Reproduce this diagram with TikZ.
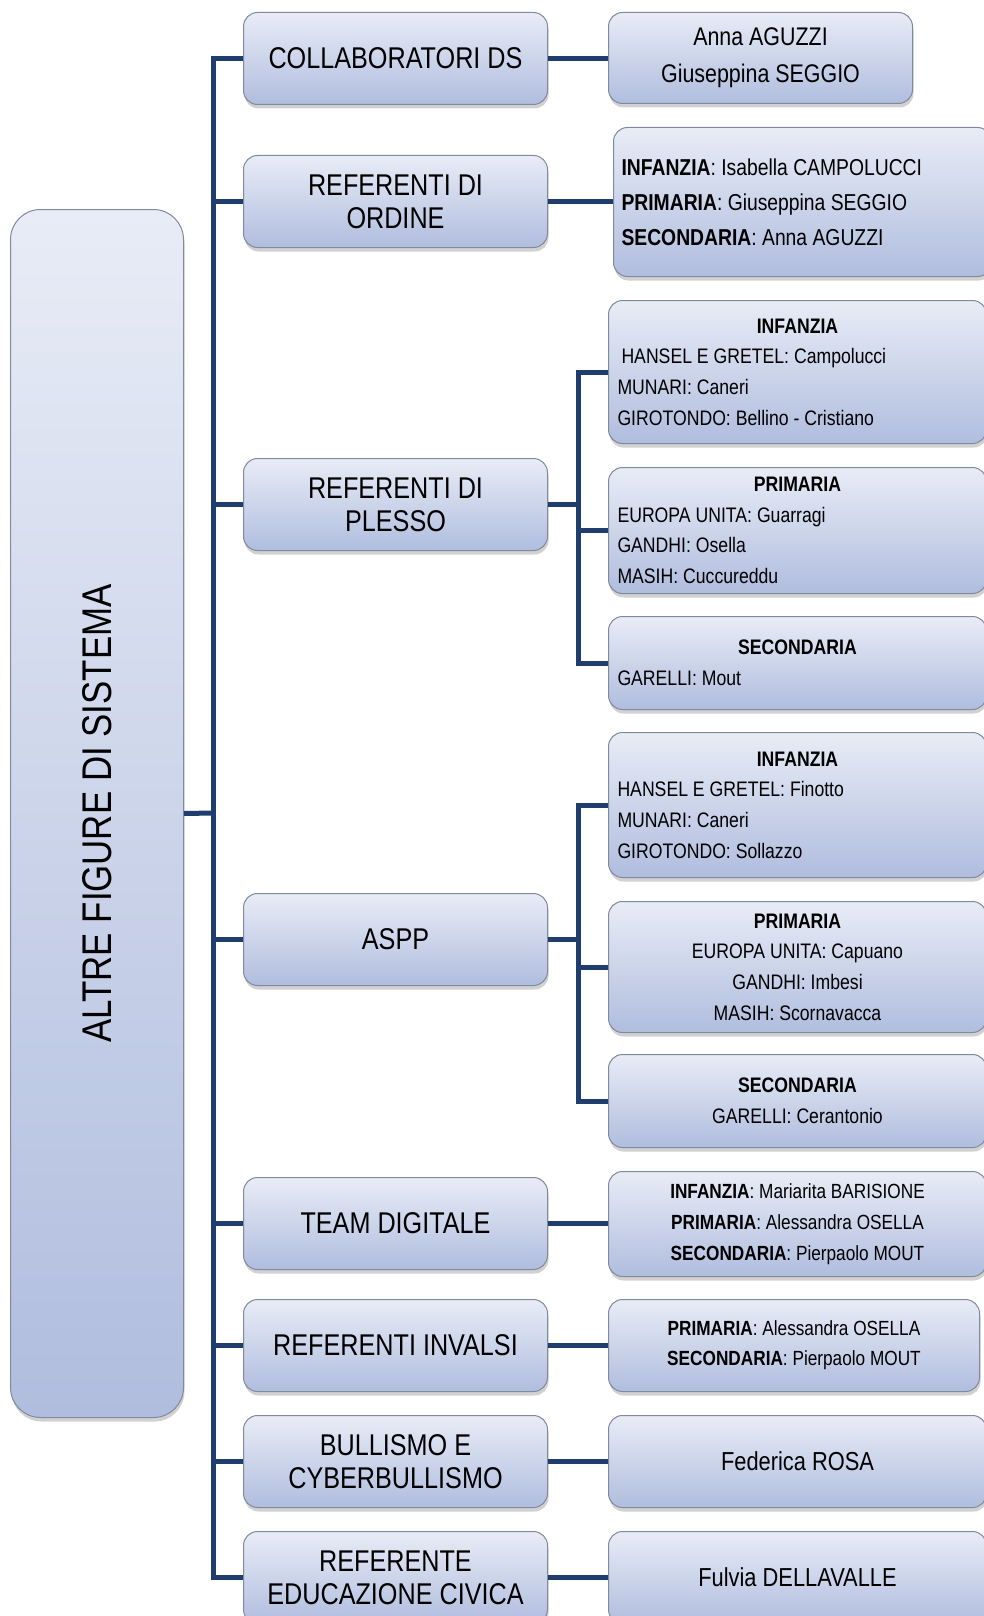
\documentclass[tikz,border=0pt]{standalone}
\usepackage{fontspec}
\setmainfont{Liberation Sans}[FakeStretch=0.84]
\usetikzlibrary{shadows}

\definecolor{linkblue}{RGB}{31,62,110}
\definecolor{boxtop}{RGB}{232,236,246}
\definecolor{boxbot}{RGB}{176,189,222}
\definecolor{boxline}{RGB}{128,138,158}

\begin{document}
\begin{tikzpicture}[
			x = 1pt, y = -1pt,
			box/.style = {draw = boxline, line width = 1pt, rounded corners = 14pt,
				top color = boxtop, bottom color = boxbot,
				drop shadow = {shadow xshift = 1pt, shadow yshift = -4pt, opacity = 0.3, fill = black!60},
				anchor = north west, inner sep = 0pt},
			mid/.style = {box, minimum width = 304pt, minimum height = 92pt, align = center,
				font = \fontsize{30}{33}\selectfont},
			leaf/.style = {box, minimum width = 378pt, align = center},
			leafleft/.style = {box, minimum width = 378pt, align = flush left, inner xsep = 9pt,
				text width = 360pt},
			link/.style = {draw = linkblue, line width = 5pt}
			]

			\useasboundingbox (0,0) rectangle (983,1616);

			% left column
			\node[box, rounded corners = 30pt, minimum width = 173pt, minimum height = 1208pt] (altre) at (10,209) {};
			\node[rotate = 90, font = \fontsize{41.5}{44}\selectfont] (altreT) at (altre.center) {ALTRE FIGURE DI SISTEMA};

			% middle column
			\node[mid] (collab) at (243,12) {COLLABORATORI DS};
			\node[mid] (ordine) at (243,155) {REFERENTI DI\\ORDINE};
			\node[mid] (plesso) at (243,458) {REFERENTI DI\\PLESSO};
			\node[mid] (aspp) at (243,893) {ASPP};
			\node[mid] (team) at (243,1177) {TEAM DIGITALE};
			\node[mid] (invalsi) at (243,1299) {REFERENTI INVALSI};
			\node[mid] (bullismo) at (243,1415) {BULLISMO E\\CYBERBULLISMO};
			\node[mid] (civica) at (243,1531) {REFERENTE\\EDUCAZIONE CIVICA};

			% right column
			\node[box, minimum width = 304pt, minimum height = 91pt, align = center,
				font = \fontsize{25.5}{37}\selectfont] (collabR) at (608,12)
				{Anna AGUZZI\\Giuseppina SEGGIO};
			\node[leafleft, minimum height = 149pt, inner xsep = 8pt, text width = 362pt,
				font = \fontsize{23}{35}\selectfont] (ordineR) at (613,127)
				{\textbf{INFANZIA}: Isabella CAMPOLUCCI\\\textbf{PRIMARIA}: Giuseppina SEGGIO\\\textbf{SECONDARIA}: Anna AGUZZI};

			\node[leafleft, minimum height = 143pt, font = \fontsize{21}{30.7}\selectfont] (plInf) at (608,300)
				{\hfill\textbf{INFANZIA}\hfill\mbox{}\\\hspace*{4pt}HANSEL E GRETEL: Campolucci\\MUNARI: Caneri\\GIROTONDO: Bellino - Cristiano};
			\node[leafleft, minimum height = 126pt, font = \fontsize{21}{30.7}\selectfont] (plPri) at (608,467)
				{\hfill\textbf{PRIMARIA}\hfill\mbox{}\\EUROPA UNITA: Guarragi\\GANDHI: Osella\\MASIH: Cuccureddu};
			\node[leafleft, minimum height = 93pt, font = \fontsize{21}{30.7}\selectfont] (plSec) at (608,616)
				{\hfill\textbf{SECONDARIA}\hfill\mbox{}\\GARELLI: Mout};

			\node[leafleft, minimum height = 145pt, font = \fontsize{21}{30.7}\selectfont] (asInf) at (608,732)
				{\hfill\textbf{INFANZIA}\hfill\mbox{}\\HANSEL E GRETEL: Finotto\\MUNARI: Caneri\\GIROTONDO: Sollazzo};
			\node[leaf, minimum height = 131pt, font = \fontsize{21}{30.7}\selectfont] (asPri) at (608,901)
				{\textbf{PRIMARIA}\\EUROPA UNITA: Capuano\\GANDHI: Imbesi\\MASIH: Scornavacca};
			\node[leaf, minimum height = 93pt, font = \fontsize{21}{30.7}\selectfont] (asSec) at (608,1054)
				{\textbf{SECONDARIA}\\GARELLI: Cerantonio};

			\node[leaf, minimum height = 105pt, font = \fontsize{20.5}{31}\selectfont] (teamR) at (608,1171)
				{\textbf{INFANZIA}: Mariarita BARISIONE\\\textbf{PRIMARIA}: Alessandra OSELLA\\\textbf{SECONDARIA}: Pierpaolo MOUT};
			\node[leaf, minimum width = 371pt, minimum height = 92pt, font = \fontsize{20.5}{30}\selectfont] (invalsiR) at (608,1299)
				{\textbf{PRIMARIA}: Alessandra OSELLA\\\textbf{SECONDARIA}: Pierpaolo MOUT};
			\node[leaf, minimum height = 92pt, font = \fontsize{26}{30}\selectfont] (bullismoR) at (608,1415) {Federica ROSA};
			\node[leaf, minimum height = 92pt, font = \fontsize{26}{30}\selectfont] (civicaR) at (608,1531) {Fulvia DELLAVALLE};

			% connectors
			\coordinate (spine) at (213,813);
			\draw[link] (altre.east) -- (spine);
			\draw[link] (collab.west) -| (spine) |- (civica.west);
			\foreach \n in {ordine,plesso,aspp,team,invalsi,bullismo}
				\draw[link] (spine |- \n.west) -- (\n.west);

			\foreach \n/\m in {collab/collabR,ordine/ordineR,team/teamR,invalsi/invalsiR,bullismo/bullismoR,civica/civicaR}
				\draw[link] (\n.east) -- (\n.east -| \m.west);

			\path (plesso.east) ++(30,0) coordinate (plSpine);
			\draw[link] (plesso.east) -- (plSpine);
			\draw[link] (plInf.west) -| (plSpine) |- (plSec.west);
			\draw[link] (plSpine |- plPri.west) -- (plPri.west);

			\path (aspp.east) ++(30,0) coordinate (asSpine);
			\draw[link] (aspp.east) -- (asSpine);
			\draw[link] (asInf.west) -| (asSpine) |- (asSec.west);
			\draw[link] (asSpine |- asPri.west) -- (asPri.west);

		\end{tikzpicture}
\end{document}
